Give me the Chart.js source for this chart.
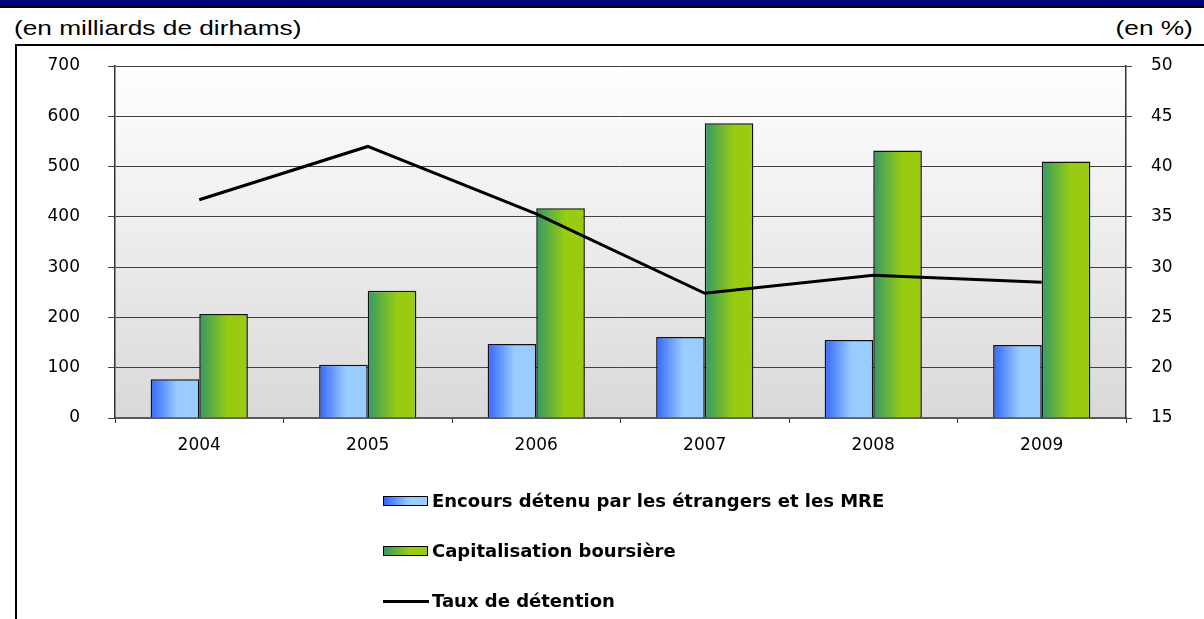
<!DOCTYPE html>
<html>
<head>
<meta charset="utf-8">
<script src="https://cdn.jsdelivr.net/npm/chart.js@4.4.0/dist/chart.umd.min.js"></script>
<style>
  html, body { margin:0; padding:0; background:#fff; width:1204px; height:619px; overflow:hidden; }
  #band { position:absolute; left:0; top:0; width:1204px; height:5px; background:#000080; }
  #bandline { position:absolute; left:0; top:5px; width:1204px; height:3px; background:#000; }
  #frame { position:absolute; left:15px; top:44px; width:1300px; height:700px; border-left:2px solid #000; border-top:2px solid #000; }
  .ttl { position:absolute; font-family:"Liberation Sans", Arial, sans-serif; font-size:21px; color:#000; white-space:nowrap; line-height:24px; }
  #tl { left:14px; top:16px; transform:scaleX(1.25); transform-origin:left center; }
  #tr { right:11px; top:16px; transform:scaleX(1.25); transform-origin:right center; }
  #wrap { position:absolute; left:0; top:0; width:1204px; height:619px; }
  #legend { position:absolute; left:383px; top:0; font-family:"DejaVu Sans", Verdana, sans-serif; font-weight:bold; font-size:18px; color:#000; }
  .li { position:absolute; left:0; white-space:nowrap; height:22px; line-height:22px; }
  .sw { position:absolute; left:0; top:6px; width:43px; height:8px; border:1px solid #000; }
  .ln { position:absolute; left:0; top:10px; width:46px; height:3px; background:#000; }
  .lt { position:absolute; left:49px; top:0; }
</style>
</head>
<body>
<div id="band"></div><div id="bandline"></div>
<div id="frame"></div>
<div class="ttl" id="tl">(en milliards de dirhams)</div>
<div class="ttl" id="tr">(en %)</div>
<div id="wrap"><canvas id="c" width="1204" height="619"></canvas></div>
<div id="legend"></div>
<script>
const categories = ["2004", "2005", "2006", "2007", "2008", "2009"];
const encoursEtrangers = [77, 106, 147, 161, 155, 145];
const capitalisation = [207, 253, 417, 586, 532, 510];
const tauxDetention = [36.7, 42.0, 35.3, 27.4, 29.2, 28.5];
const leftTicks = [0, 100, 200, 300, 400, 500, 600, 700];
const rightTicks = [15, 20, 25, 30, 35, 40, 45, 50];
const seriesLabels = ["Encours détenu par les étrangers et les MRE", "Capitalisation boursière", "Taux de détention"];

const CAT_PCT = 0.577;
const blueStops = [[0, '#3366ff'], [0.55, '#99ccff'], [1, '#99ccff']];
const greenStops = [[0, '#339966'], [0.6, '#99cc11'], [1, '#99cc11']];

function barGradient(ctx, stops) {
  const chart = ctx.chart;
  const xs = chart.scales && chart.scales.x;
  if (ctx.type !== 'data' || !xs || !chart.chartArea) return stops[1][1];
  const n = categories.length;
  const cw = (xs.right - xs.left) / n;
  const gw = cw * CAT_PCT;
  const bw = gw / 2;
  const center = xs.getPixelForValue(ctx.dataIndex);
  const left = center - gw / 2 + ctx.datasetIndex * bw;
  const g = chart.ctx.createLinearGradient(left, 0, left + bw, 0);
  stops.forEach(s => g.addColorStop(s[0], s[1]));
  return g;
}

const bgPlugin = {
  id: 'plotBg',
  beforeDraw(chart) {
    const a = chart.chartArea; if (!a) return;
    const c = chart.ctx;
    const g = c.createLinearGradient(0, a.top, 0, a.bottom);
    g.addColorStop(0, '#ffffff');
    g.addColorStop(1, '#d9d9d9');
    c.save(); c.fillStyle = g; c.fillRect(a.left, a.top, a.right - a.left, a.bottom - a.top); c.restore();
  }
};

const tickFont = { family: "'DejaVu Sans', Verdana, sans-serif", size: 17 };

new Chart(document.getElementById('c'), {
  type: 'bar',
  data: {
    labels: categories,
    datasets: [
      { type: 'bar', label: seriesLabels[0], data: encoursEtrangers, yAxisID: 'y', order: 1,
        backgroundColor: ctx => barGradient(ctx, blueStops), borderColor: '#111', borderWidth: 1.5 },
      { type: 'bar', label: seriesLabels[1], data: capitalisation, yAxisID: 'y', order: 1,
        backgroundColor: ctx => barGradient(ctx, greenStops), borderColor: '#111', borderWidth: 1.5 },
      { type: 'line', label: seriesLabels[2], data: tauxDetention, yAxisID: 'y1', order: 0,
        borderColor: '#000', borderWidth: 3, pointRadius: 0, tension: 0, fill: false }
    ]
  },
  options: {
    responsive: false,
    animation: false,
    events: [],
    layout: { padding: { top: 66, left: 0, right: 0, bottom: 0 } },
    datasets: { bar: { categoryPercentage: CAT_PCT, barPercentage: 1.0 } },
    plugins: { legend: { display: false }, tooltip: { enabled: false } },
    scales: {
      x: {
        offset: true,
        grid: { display: true, drawOnChartArea: false, offset: true, tickLength: 5, color: '#333', lineWidth: 1 },
        border: { display: true, color: '#595959', width: 2 },
        ticks: { font: tickFont, color: '#000', padding: 12, maxRotation: 0 },
        afterFit(s) { s.height = 619 - 418; }
      },
      y: {
        position: 'left', min: 0, max: 700,
        afterBuildTicks(s) { s.ticks = leftTicks.map(v => ({ value: v })); },
        grid: { color: '#404040', lineWidth: 1, tickLength: 7 },
        border: { display: true, color: '#333', width: 1.5 },
        ticks: { font: tickFont, color: '#000', padding: 28 },
        afterFit(s) { s.width = 115; }
      },
      y1: {
        position: 'right', min: 15, max: 50,
        afterBuildTicks(s) { s.ticks = rightTicks.map(v => ({ value: v })); },
        grid: { drawOnChartArea: false, color: '#404040', lineWidth: 1, tickLength: 6 },
        border: { display: true, color: '#333', width: 1.5 },
        ticks: { font: tickFont, color: '#000', padding: 19 },
        afterFit(s) { s.width = 1204 - 1126; }
      }
    }
  },
  plugins: [bgPlugin]
});

// HTML legend built from the series labels
const legend = document.getElementById('legend');
const legendY = [490, 540, 590];
const swatches = [
  'linear-gradient(to right, #3366ff 0%, #99ccff 60%, #99ccff 100%)',
  'linear-gradient(to right, #339966 0%, #99cc11 60%, #99cc11 100%)',
  null
];
seriesLabels.forEach((lbl, i) => {
  const d = document.createElement('div');
  d.className = 'li';
  d.style.top = legendY[i] + 'px';
  const sw = document.createElement('div');
  if (swatches[i]) { sw.className = 'sw'; sw.style.background = swatches[i]; }
  else { sw.className = 'ln'; }
  const t = document.createElement('div');
  t.className = 'lt';
  t.textContent = lbl;
  d.appendChild(sw); d.appendChild(t);
  legend.appendChild(d);
});
</script>
</body>
</html>
